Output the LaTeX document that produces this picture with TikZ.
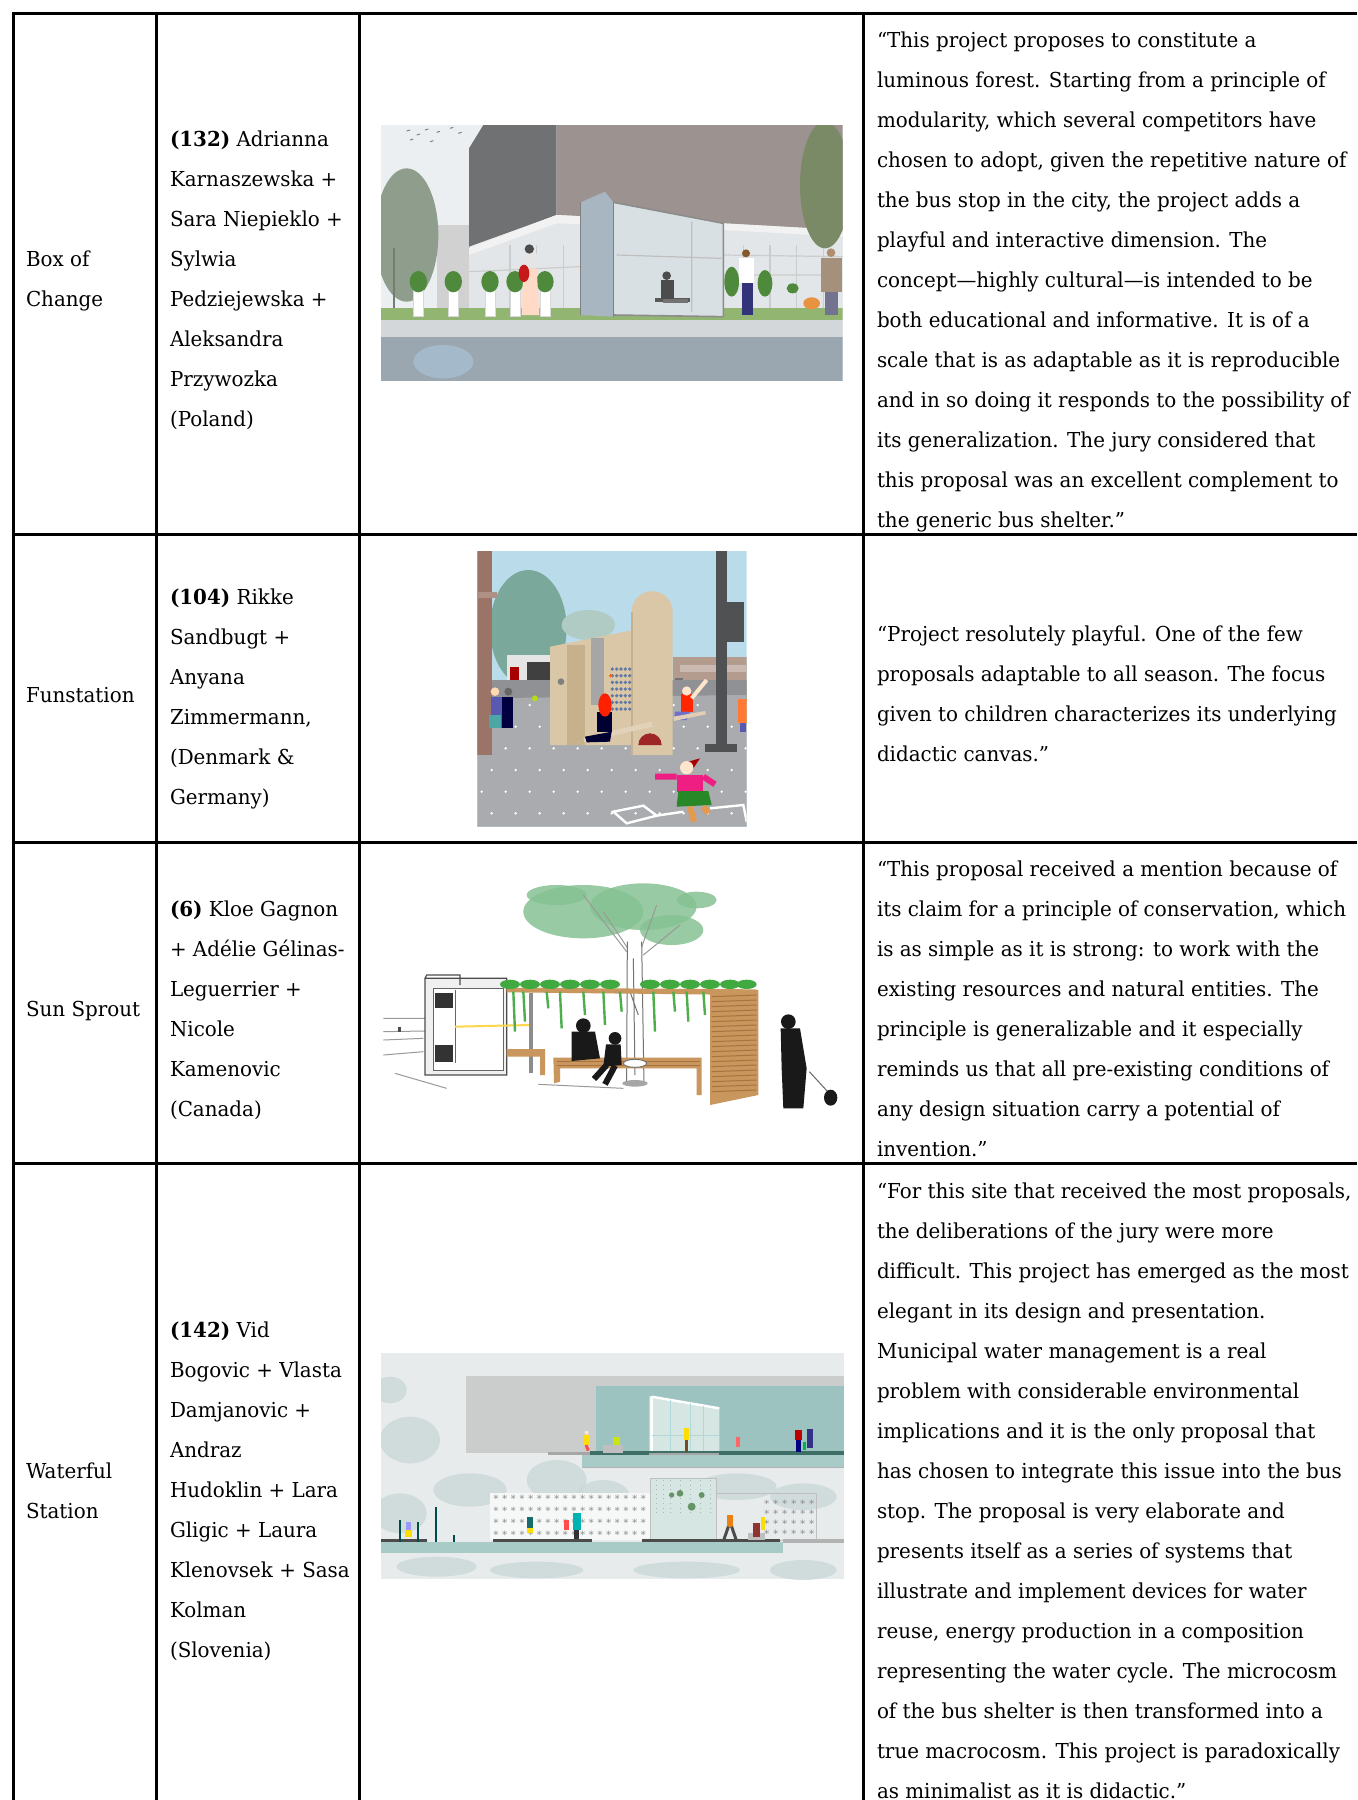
\documentclass[tikz,border=0pt]{standalone}
\usepackage{fontspec}
\setmainfont{DejaVu Serif}[FakeStretch=0.965]
\newcommand\fsz{\fontsize{10.3}{12}\selectfont}
\definecolor{skyA}{HTML}{ECEFF1}
\definecolor{brickA}{HTML}{9C928F}
\definecolor{darkA}{HTML}{707173}
\definecolor{whiteA}{HTML}{E2E6E8}
\definecolor{treeA}{HTML}{8E9D8C}
\definecolor{treeB}{HTML}{7B8A66}
\definecolor{grassA}{HTML}{93B572}
\definecolor{paveA}{HTML}{D3D7DA}
\definecolor{roadA}{HTML}{9AA6B0}
\definecolor{flareA}{HTML}{A9C3D6}
\definecolor{glassA}{HTML}{D9E0E4}
\definecolor{panelA}{HTML}{A7B6C0}
\definecolor{plantA}{HTML}{4F8A3C}
\definecolor{skyB}{HTML}{BADCEA}
\definecolor{groundB}{HTML}{A9ABAE}
\definecolor{brickB}{HTML}{9B7467}
\definecolor{treeC}{HTML}{7AA89B}
\definecolor{woodB}{HTML}{DAC7A7}
\definecolor{woodBd}{HTML}{C7B08C}
\definecolor{bldB}{HTML}{B39B8E}
\definecolor{poleB}{HTML}{505153}
\definecolor{dotB}{HTML}{5F79A6}
\definecolor{leafC}{HTML}{86C293}
\definecolor{woodC}{HTML}{C9965E}
\definecolor{woodCd}{HTML}{A8733F}
\definecolor{bgD}{HTML}{E8EBEB}
\definecolor{blotD}{HTML}{CBD8D8}
\definecolor{grayD}{HTML}{CBCDCD}
\definecolor{tealD}{HTML}{9DC3C1}
\definecolor{slabD}{HTML}{A9CBC8}
\definecolor{glassD}{HTML}{D6E6E3}
\definecolor{stripD}{HTML}{3D6F66}
\tikzset{
  tx/.style={anchor=base west, inner sep=0pt, outer sep=0pt, font=\fsz},
  rule/.style={line width=1.5pt, black},
}
\begin{document}
\begin{tikzpicture}[x=0.5pt,y=-0.5pt]
\useasboundingbox (0,0) rectangle (1357,1800);
\fill[white] (0,0) rectangle (1357,1800);

% ================= image 1 : Box of Change =================
\begin{scope}[shift={(370,115)},scale=0.33333]
  \clip (33,30) rectangle (1418,797);
  \fill[skyA] (33,30) rectangle (1418,797);
  \fill[black!18] (200,330) rectangle (300,580);
  \fill[treeA] (110,360) ellipse (95 and 200);
  \fill[treeA!80!black] (70,400) rectangle (76,580);
  \fill[brickA] (560,30) rectangle (1418,350);
  \fill[darkA] (297,100) -- (340,30) -- (560,30) -- (560,300) -- (297,395) -- cycle;
  \fill[whiteA] (297,400) -- (560,300) -- (1060,325) -- (1418,345) -- (1418,600) -- (297,600) -- cycle;
  \fill[white!95!black] (297,400) -- (560,300) -- (1060,325) -- (1418,345) -- (1418,365) -- (1060,345) -- (560,325) -- (297,420) -- cycle;
  \foreach \gx in {420,500,580,1120,1200,1280,1360} \draw[black!20,line width=0.6pt] (\gx,390) -- (\gx,590);
  \draw[black!20,line width=0.6pt] (297,470) -- (630,455) (1060,420) -- (1418,425) (1060,480) -- (1418,480);
  \fill[treeB] (1365,210) ellipse (75 and 190);
  \fill[grassA] (33,578) rectangle (1418,615);
  \fill[paveA] (33,615) rectangle (1418,665);
  \fill[roadA] (33,665) rectangle (1418,797);
  \fill[flareA,opacity=0.7] (220,740) ellipse (90 and 50);
  % shelter
  \fill[glassA] (730,262) -- (1060,325) -- (1060,605) -- (730,600) -- cycle;
  \draw[black!45,line width=0.8pt] (730,262) -- (1060,325) -- (1060,605) (730,600) -- (1060,605);
  \draw[black!25,line width=0.6pt] (965,320) -- (965,590) (740,420) -- (1055,430);
  \fill[panelA] (632,262) -- (705,230) -- (730,262) -- (730,605) -- (632,600) -- cycle;
  \draw[black!50,line width=0.6pt] (632,262) -- (632,600) (730,262) -- (730,605);
  \fill[black!65] (855,548) rectangle (960,560);
  % planters
  \foreach \px in {130,235,345,420,510} {
    \fill[white] (\px,505) rectangle ++(30,100);
    \draw[black!15,line width=0.4pt] (\px,505) rectangle ++(30,100);
    \fill[plantA] (\px+15,500) ellipse (26 and 32);
  }
  \fill[plantA] (1085,500) ellipse (22 and 45);
  \fill[plantA] (1185,505) ellipse (22 and 40);
  \fill[plantA] (1268,520) ellipse (18 and 15);
  % people
  \fill[black!70] (478,402) circle (14);
  \fill[white!90!black] (462,418) rectangle (500,460);
  \fill[pink!60!orange!40!white] (460,460) -- (500,460) -- (508,600) -- (455,600) -- cycle;
  \fill[red!75!black!90!white] (462,475) ellipse (16 and 26);
  \fill[black!70] (890,482) circle (13);
  \fill[black!70] (872,495) rectangle (912,552);
  \fill[black!55] (880,552) rectangle (955,565);
  \fill[brown!70!black] (1128,415) circle (12);
  \fill[white] (1108,430) rectangle (1152,505);
  \fill[blue!35!black!80] (1115,505) rectangle (1148,600);
  \fill[brown!60!white!80!black] (1383,413) circle (13);
  \fill[brown!55!black!60!white] (1352,430) rectangle (1415,530);
  \fill[blue!20!black!55] (1365,530) rectangle (1405,600);
  \fill[orange!55!brown!85!white] (1325,565) ellipse (25 and 18);
  \foreach \bx/\by in {110/48,140/60,165/45,200/52,240/40,265/55,120/75,180/80} \draw[black!50,line width=0.5pt] (\bx,\by) -- ++(10,-3);
\end{scope}

% ================= image 2 : Funstation =================
\begin{scope}[shift={(470,545)},scale=0.33333]
  \clip (22,18) rectangle (830,845);
  \fill[skyB] (22,18) rectangle (830,845);
  \fill[treeC] (175,250) ellipse (115 and 175);
  \fill[treeC!60!white] (355,240) ellipse (80 and 45);
  \fill[bldB] (610,335) rectangle (830,470);
  \fill[bldB!70!white] (630,360) rectangle (830,380);
  \fill[black!55] (615,400) rectangle (640,450);
  \fill[black!10] (110,330) rectangle (240,410);
  \fill[red!65!black] (120,365) rectangle (148,405);
  \fill[black!75] (170,350) rectangle (240,405);
  \fill[groundB!85!black] (22,405) rectangle (830,470);
  \fill[groundB] (22,460) -- (830,450) -- (830,845) -- (22,845) -- cycle;
  \foreach \r in {0,...,5} \foreach \c in {0,...,11}
     \fill[white] ({35+72*\c+30*mod(\r,2)},{480+65*\r}) circle (4);
  \fill[brickB] (22,18) rectangle (65,630);
  \fill[brickB!80!white] (22,140) rectangle (80,160);
  % wooden structure
  \fill[woodB] (240,305) -- (490,255) -- (490,600) -- (240,600) -- cycle;
  \fill[woodBd] (290,300) rectangle (345,600);
  \fill[woodB] (485,630) -- (485,200) arc[start angle=180,end angle=360,radius=61.5] -- (608,630) -- cycle;
  \draw[woodBd,line width=1pt] (485,200) -- (485,630);
  \fill[black!35] (362,280) rectangle (402,480);
  \fill[black!50] (273,410) circle (10);
  \foreach \i in {0,...,4} \foreach \j in {0,...,6}
     \fill[dotB] ({427+13*\i},{372+20*\j}) circle (5.5);
  \fill[orange!80!red] (422,392) circle (5.5);
  \fill[woodB!80!white] (340,578) -- (545,530) -- (548,545) -- (343,592) -- cycle;
  \fill[red!55!black!85!white] (505,600) arc[start angle=180,end angle=360,radius=35] -- cycle;
  \fill[black!80!blue] (380,500) rectangle (425,560);
  \fill[black!80!blue] (345,575) -- (425,560) -- (420,590) -- (350,592) -- cycle;
  \fill[red!75!orange] (405,480) ellipse (20 and 35);
  % pole
  \fill[poleB] (738,18) rectangle (770,610);
  \fill[poleB] (705,598) rectangle (800,620);
  \fill[poleB] (770,170) rectangle (822,290);
  % kids
  \fill[red!70!orange] (632,448) rectangle (670,500);
  \fill[orange!20!white] (650,438) circle (14);
  \draw[orange!20!white,line width=2pt] (665,460) -- (710,405);
  \fill[blue!45!white!80!black] (615,500) -- (660,500) -- (650,525) -- (612,525) -- cycle;
  \fill[woodB!85!white] (610,515) -- (705,498) -- (708,508) -- (612,528) -- cycle;
  \fill[blue!50!white!70!black] (62,455) rectangle (95,550);
  \fill[teal!70!white] (58,510) rectangle (92,550);
  \fill[orange!30!white] (75,440) circle (13);
  \fill[black!75!blue] (95,455) rectangle (130,550);
  \fill[black!60] (115,440) circle (12);
  \fill[yellow!70!green] (195,460) circle (9);
  \fill[orange!70!red!80!white] (805,462) rectangle (830,535);
  \fill[blue!50!white!70!black] (810,535) rectangle (828,560);
  \fill[red!65!black] (655,650) -- (690,640) -- (670,670) -- cycle;
  \fill[orange!20!white] (650,668) circle (20);
  \fill[magenta!80!red!90!white] (620,690) rectangle (700,740);
  \draw[magenta!80!red!90!white,line width=3pt] (620,695) -- (555,695) (700,695) -- (735,718);
  \fill[green!45!black!85!white] (625,738) -- (715,738) -- (725,780) -- (620,785) -- cycle;
  \draw[orange!50!brown!80!white,line width=3pt] (660,785) -- (672,830) (700,785) -- (715,805);
  \draw[white,line width=1.2pt] (430,800) -- (520,782) -- (560,812) -- (470,835) -- cycle (560,812) -- (640,800) (720,790) -- (820,780) -- (830,830);
\end{scope}

% ================= image 3 : Sun Sprout =================
\begin{scope}[shift={(370,875)},scale=0.33333]
  \fill[leafC,opacity=0.85] (640,110) ellipse (180 and 80);
  \fill[leafC,opacity=0.85] (820,95) ellipse (160 and 70);
  \fill[leafC,opacity=0.85] (905,165) ellipse (95 and 45);
  \fill[leafC,opacity=0.85] (560,60) ellipse (90 and 30);
  \fill[leafC,opacity=0.85] (980,75) ellipse (60 and 25);
  \draw[black!40,line width=0.5pt] (640,60) -- (770,230) (700,110) -- (780,230) (860,90) -- (810,230) (930,150) -- (820,240);
  % street lines
  \draw[black!40,line width=0.5pt] (40,430) -- (165,430) (40,470) -- (165,468) (40,495) -- (160,490) (75,595) -- (230,640) (505,628) -- (760,640) (40,540) -- (160,530);
  \fill[black!70] (85,455) rectangle (92,470);
  % left shelter
  \fill[black!6] (165,310) rectangle (410,600);
  \draw[black!70,line width=0.6pt] (165,310) -- (170,300) -- (270,300) -- (270,330) (165,310) rectangle (410,600);
  \fill[white] (190,340) rectangle (400,585);
  \draw[black!60,line width=0.5pt] (190,340) rectangle (400,585) (255,345) -- (255,565);
  \fill[black!80] (195,355) rectangle (250,400);
  \fill[black!80] (195,510) rectangle (250,560);
  \draw[yellow!60!orange!70!white,line width=1pt] (255,455) -- (480,450);
  \fill[black!45] (478,355) rectangle (490,595);
  % trunk
  \fill[white] (772,200) -- (815,200) -- (822,630) -- (770,630) -- cycle;
  \draw[black!55,line width=0.5pt] (772,200) -- (770,630) (815,200) -- (822,630) (790,250) -- (795,600) (780,350) -- (805,420);
  \fill[black!35] (795,625) ellipse (38 and 10);
  % roof beam
  \fill[woodC] (410,338) -- (1160,343) -- (1160,360) -- (410,352) -- cycle;
  \foreach \fx in {420,480,540,600,660,720,840,900,960,1020,1080,1130}
     \fill[green!55!black!75!white] (\fx,328) ellipse (30 and 14);
  \foreach \hx/\hl in {430/120,460/90,530/50,570/110,640/70,700/100,750/60,850/120,910/60,950/90,1000/70,1060/40}
     \draw[green!55!black!70!white,line width=1.2pt] (\hx,350) -- ++(5,\hl);
  % right wood wall
  \fill[woodC] (1020,345) -- (1165,345) -- (1165,660) -- (1020,690) -- cycle;
  \foreach \sy in {0,...,19} \draw[woodCd,line width=0.5pt] (1025,{365+15*\sy}) -- (1160,{360+15*\sy});
  % benches
  \fill[woodC] (410,522) -- (525,522) -- (525,600) -- (510,600) -- (510,545) -- (410,545) -- cycle;
  \fill[woodC] (550,548) -- (995,548) -- (995,660) -- (980,660) -- (980,580) -- (570,580) -- (570,620) -- (552,625) -- cycle;
  \draw[woodCd,line width=0.4pt] (560,560) -- (990,560) (560,570) -- (990,570);
  \fill[white] (795,565) ellipse (35 and 12);
  \draw[black!55,line width=0.5pt] (795,565) ellipse (35 and 12);
  % silhouettes
  \fill[black!90] (640,452) circle (22);
  \fill[black!90] (605,470) -- (675,470) -- (690,550) -- (605,558) -- cycle;
  \fill[black!90] (735,490) circle (19);
  \fill[black!90] (708,508) -- (752,508) -- (755,570) -- (700,575) -- cycle;
  \draw[black!90,line width=3pt] (710,570) -- (672,612) (735,572) -- (705,628);
  \fill[black!90] (1255,440) circle (22);
  \fill[black!90] (1232,460) -- (1290,460) -- (1310,580) -- (1300,700) -- (1240,700) -- (1235,580) -- cycle;
  \draw[black!60,line width=0.5pt] (1318,590) -- (1375,652);
  \fill[black!90] (1382,668) ellipse (20 and 24);
\end{scope}

% ================= image 4 : Waterful Station =================
\begin{scope}[shift={(370,1340)},scale=0.33333]
  \clip (33,40) rectangle (1422,717);
  \fill[bgD] (33,40) rectangle (1422,717);
  \foreach \ex/\ey/\ea/\eb in {120/300/90/70,90/520/80/60,300/450/110/50,560/420/90/60,700/470/80/50,1100/440/120/40,1300/470/100/40,200/680/120/30,500/690/140/25,950/690/160/25,1300/690/100/30,60/150/50/40}
     \fill[blotD,opacity=0.8] (\ex,\ey) ellipse [x radius=\ea, y radius=\eb];
  \fill[grayD] (288,108) rectangle (1422,340);
  \fill[tealD] (678,138) rectangle (1422,340);
  \fill[glassD] (838,168) -- (1048,205) -- (1048,340) -- (838,340) -- cycle;
  \draw[white,line width=1.2pt] (845,170) -- (845,340) (845,170) -- (1048,205);
  \draw[white!70!teal,line width=0.5pt] (900,180) -- (900,340) (960,190) -- (960,340) (1000,197) -- (1000,340) (845,285) -- (1048,285);
  \fill[black!35] (535,337) rectangle (680,346);
  \fill[stripD] (660,334) rectangle (1422,346);
  \fill[black!35] (838,338) rectangle (1048,346);
  \fill[slabD] (635,346) rectangle (1422,382);
  \draw[black!30,line width=0.4pt] (635,382) -- (1422,382);
  % upper people
  \fill[yellow!80!orange] (643,285) rectangle (660,315);
  \draw[red!70,line width=1.5pt] (648,315) -- (655,332);
  \fill[orange!20!white] (650,278) circle (6);
  \fill[black!25] (700,315) rectangle (760,338);
  \fill[yellow!80!green] (730,292) rectangle (750,315);
  \fill[yellow!80!orange] (942,265) rectangle (958,300);
  \fill[brown!60!black] (944,300) rectangle (955,335);
  \fill[red!60!white] (1098,290) rectangle (1110,320);
  \fill[red!75!black] (1275,270) rectangle (1297,300);
  \fill[blue!50!black] (1278,300) rectangle (1294,335);
  \fill[blue!40!black!80] (1310,268) rectangle (1330,325);
  \fill[teal!60!green] (1298,305) rectangle (1308,330);
  % lower wall with star grid
  \fill[white!60!bgD] (360,460) rectangle (845,600);
  \foreach \sx in {0,...,17} \foreach \sy in {0,...,3}
     \node[inner sep=0pt,font=\tiny,text=black!45] (st\sx-\sy) at ({378+26*\sx},{475+36*\sy}) {*};
  \fill[glassD] (840,415) rectangle (1040,600);
  \draw[black!25,line width=0.4pt] (840,415) rectangle (1040,600) (1040,460) rectangle (1340,600);
  \foreach \kx in {860,880,900,930,960,990,1020} \draw[black!30,line width=0.3pt,dotted] (\kx,420) -- (\kx,520);
  \fill[green!30!black!60] (930,460) circle (10);
  \fill[green!30!black!60] (965,500) circle (12);
  \fill[green!30!black!60] (995,465) circle (9);
  \fill[green!30!black!60] (905,465) circle (8);
  \foreach \sx in {0,...,5} \foreach \sy in {0,...,3}
     \node[inner sep=0pt,font=\tiny,text=black!45] (su\sx-\sy) at ({1190+27*\sx},{490+30*\sy}) {*};
  % lower floor
  \fill[black!70] (33,598) rectangle (170,606);
  \fill[black!70] (370,598) rectangle (665,606);
  \fill[black!70] (815,598) rectangle (1230,606);
  \fill[slabD] (33,606) rectangle (1238,640);
  \fill[black!30] (1238,598) rectangle (1422,610);
  \fill[teal!60!black] (88,540) rectangle (94,605);
  \fill[teal!60!black] (140,545) rectangle (146,605);
  \fill[teal!60!black] (195,500) rectangle (201,605);
  \fill[teal!60!black] (250,585) rectangle (256,605);
  % lower people
  \fill[blue!40!white] (108,545) rectangle (122,570);
  \fill[yellow!80!orange] (105,570) rectangle (125,590);
  \fill[teal!70!black!90!white] (470,530) rectangle (490,565);
  \fill[yellow!80!orange] (472,565) rectangle (488,580);
  \fill[red!70!white] (582,540) rectangle (598,570);
  \fill[teal!60!cyan] (608,520) rectangle (632,570);
  \fill[black!80] (612,570) rectangle (628,598);
  \fill[orange!70!brown] (1072,525) rectangle (1088,560);
  \draw[black!70,line width=1.5pt] (1075,560) -- (1062,598) (1085,560) -- (1098,598);
  \fill[black!25] (1135,578) rectangle (1185,600);
  \fill[red!45!black!80!white] (1150,550) rectangle (1170,590);
  \fill[yellow!80!orange] (1172,530) rectangle (1186,570);
\end{scope}

% ================= table rules =================
\draw[rule] (13,13) -- (1357,13);
\draw[rule] (13,534) -- (1357,534);
\draw[rule] (13,842.5) -- (1357,842.5);
\draw[rule] (13,1163.5) -- (1357,1163.5);
\draw[rule] (13,12.3) -- (13,1800);
\draw[rule] (156,12.3) -- (156,1800);
\draw[rule] (359,12.3) -- (359,1800);
\draw[rule] (863.5,12.3) -- (863.5,1800);

% ================= column 1 =================
\node[tx] (n1a) at (26,266) {Box of};
\node[tx] (n1b) at (26,306) {Change};
\node[tx] (n2a) at (26,702) {Funstation};
\node[tx] (n3a) at (26,1016) {Sun Sprout};
\node[tx] (n4a) at (26,1478) {Waterful};
\node[tx] (n4b) at (26,1518) {Station};

% ================= column 2 =================
\foreach \t [count=\i from 0] in {{\textbf{(132)} Adrianna},{Karnaszewska +},{Sara Niepieklo +},{Sylwia},{Pedziejewska +},{Aleksandra},{Przywozka},{(Poland)}}
  \node[tx] (a1-\i) at (170,{146+40*\i}) {\t};
\foreach \t [count=\i from 0] in {{\textbf{(104)} Rikke},{Sandbugt +},{Anyana},{Zimmermann,},{(Denmark \&},{Germany)}}
  \node[tx] (a2-\i) at (170,{604+40*\i}) {\t};
\foreach \t [count=\i from 0] in {{\textbf{(6)} Kloe Gagnon},{+ Adélie Gélinas-},{Leguerrier +},{Nicole},{Kamenovic},{(Canada)}}
  \node[tx] (a3-\i) at (170,{916+40*\i}) {\t};
\foreach \t [count=\i from 0] in {{\textbf{(142)} Vid},{Bogovic + Vlasta},{Damjanovic +},{Andraz},{Hudoklin + Lara},{Gligic + Laura},{Klenovsek + Sasa},{Kolman},{(Slovenia)}}
  \node[tx] (a4-\i) at (170,{1337+40*\i}) {\t};

% ================= column 4 =================
\foreach \t [count=\i from 0] in {
 {“This project proposes to constitute a},
 {luminous forest. Starting from a principle of},
 {modularity, which several competitors have},
 {chosen to adopt, given the repetitive nature of},
 {the bus stop in the city, the project adds a},
 {playful and interactive dimension. The},
 {concept—highly cultural—is intended to be},
 {both educational and informative. It is of a},
 {scale that is as adaptable as it is reproducible},
 {and in so doing it responds to the possibility of},
 {its generalization. The jury considered that},
 {this proposal was an excellent complement to},
 {the generic bus shelter.”}}
  \node[tx] (q1-\i) at (877,{47+40*\i}) {\t};
\foreach \t [count=\i from 0] in {
 {“Project resolutely playful. One of the few},
 {proposals adaptable to all season. The focus},
 {given to children characterizes its underlying},
 {didactic canvas.”}}
  \node[tx] (q2-\i) at (877,{641+40*\i}) {\t};
\foreach \t [count=\i from 0] in {
 {“This proposal received a mention because of},
 {its claim for a principle of conservation, which},
 {is as simple as it is strong: to work with the},
 {existing resources and natural entities. The},
 {principle is generalizable and it especially},
 {reminds us that all pre-existing conditions of},
 {any design situation carry a potential of},
 {invention.”}}
  \node[tx] (q3-\i) at (877,{876+40*\i}) {\t};
\foreach \t [count=\i from 0] in {
 {“For this site that received the most proposals,},
 {the deliberations of the jury were more},
 {difficult. This project has emerged as the most},
 {elegant in its design and presentation.},
 {Municipal water management is a real},
 {problem with considerable environmental},
 {implications and it is the only proposal that},
 {has chosen to integrate this issue into the bus},
 {stop. The proposal is very elaborate and},
 {presents itself as a series of systems that},
 {illustrate and implement devices for water},
 {reuse, energy production in a composition},
 {representing the water cycle. The microcosm},
 {of the bus shelter is then transformed into a},
 {true macrocosm. This project is paradoxically},
 {as minimalist as it is didactic.”}}
  \node[tx] (q4-\i) at (877,{1198+40*\i}) {\t};
\end{tikzpicture}
\end{document}
